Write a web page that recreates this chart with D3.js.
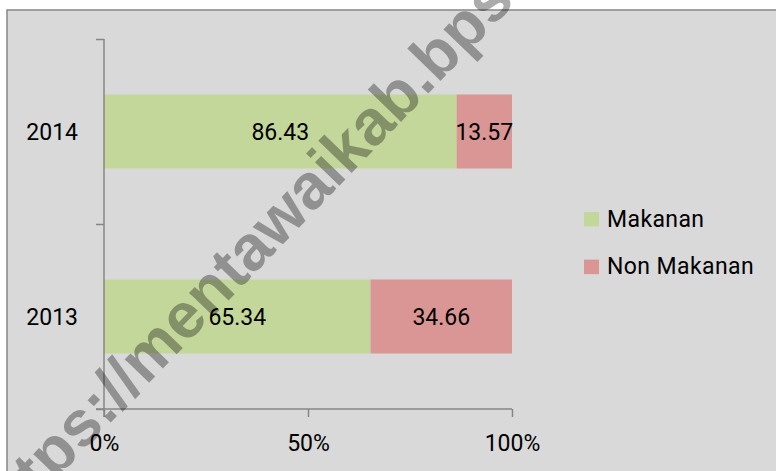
<!DOCTYPE html>
<html>
<head>
<meta charset="utf-8">
<script src="https://cdn.jsdelivr.net/npm/d3@7"></script>
<style>
  html, body { margin: 0; padding: 0; background: #ffffff; }
  svg { display: block; }
  text { font-family: Roboto, "Liberation Sans", sans-serif; fill: #000; }
</style>
</head>
<body>
<svg id="chart" width="776" height="471"></svg>
<script>
// Shares of spending (percent) per year
const years = ["2014", "2013"];
const makanan = [86.43, 65.34];
const nonMakanan = [13.57, 34.66];
const seriesNames = ["Makanan", "Non Makanan"];
const seriesColors = ["#c4d79b", "#da9694"];
const xTicks = [0, 0.5, 1];

const svg = d3.select("#chart");
const W = 776, H = 471;

// chart area panel
svg.append("rect")
  .attr("x", 7).attr("y", 10)
  .attr("width", W).attr("height", H)
  .attr("fill", "#d9d9d9")
  .attr("stroke", "#868686")
  .attr("stroke-width", 1.5);

const plot = { left: 104, right: 512, top: 39, bottom: 409 };

const x = d3.scaleLinear().domain([0, 1]).range([plot.left, plot.right]);
const y = d3.scaleBand().domain(years)
  .range([plot.top, plot.bottom])
  .paddingInner(0.6).paddingOuter(0.3);
// category boundaries for the vertical axis ticks
const yEdge = d3.scaleLinear().domain([0, years.length]).range([plot.bottom, plot.top]);

// stacked rows
const rows = years.map((yr, i) => {
  const total = makanan[i] + nonMakanan[i];
  return { year: yr, parts: [
    { name: seriesNames[0], value: makanan[i], x0: 0, x1: makanan[i] / total, color: seriesColors[0] },
    { name: seriesNames[1], value: nonMakanan[i], x0: makanan[i] / total, x1: 1, color: seriesColors[1] }
  ]};
});

const rowG = svg.append("g").selectAll("g").data(rows).join("g");
rowG.selectAll("rect").data(d => d.parts.map(p => ({ ...p, year: d.year })))
  .join("rect")
  .attr("x", d => x(d.x0))
  .attr("y", d => y(d.year))
  .attr("width", d => x(d.x1) - x(d.x0))
  .attr("height", y.bandwidth())
  .attr("fill", d => d.color);

rowG.selectAll("text.val").data(d => d.parts.map(p => ({ ...p, year: d.year })))
  .join("text")
  .attr("class", "val")
  .attr("x", d => (x(d.x0) + x(d.x1)) / 2)
  .attr("y", d => y(d.year) + y.bandwidth() / 2)
  .attr("dy", "0.35em")
  .attr("text-anchor", "middle")
  .style("font-size", "23px")
  .text(d => d.value.toFixed(2));

// vertical axis
const yAxis = svg.append("g")
  .attr("transform", `translate(${plot.left},0)`)
  .call(d3.axisLeft(yEdge).tickValues(d3.range(years.length + 1)).tickSize(8).tickFormat(""));
yAxis.select(".domain").attr("stroke", "#868686").attr("stroke-width", 1.5)
  .attr("d", `M0,${plot.top}V${plot.bottom + 8}`);
yAxis.selectAll(".tick line").attr("stroke", "#868686").attr("stroke-width", 1.5);

// category labels
svg.append("g").selectAll("text").data(years).join("text")
  .attr("x", 78)
  .attr("y", d => y(d) + y.bandwidth() / 2)
  .attr("dy", "0.35em")
  .attr("text-anchor", "end")
  .style("font-size", "23px")
  .text(d => d);

// horizontal axis
const xAxis = svg.append("g")
  .attr("transform", `translate(0,${plot.bottom})`)
  .call(d3.axisBottom(x).tickValues(xTicks).tickSize(8).tickPadding(18).tickFormat(d3.format(".0%")));
xAxis.select(".domain").attr("stroke", "#868686").attr("stroke-width", 1.5)
  .attr("d", `M${plot.left - 8},0H${plot.right}`);
xAxis.selectAll(".tick line").attr("stroke", "#868686").attr("stroke-width", 1.5);
xAxis.selectAll(".tick text").style("font-size", "23px")
  .style("font-family", "Roboto, 'Liberation Sans', sans-serif").attr("fill", "#000");

// legend
const legend = svg.append("g").attr("transform", "translate(584,212)");
const li = legend.selectAll("g").data(seriesNames).join("g")
  .attr("transform", (d, i) => `translate(0,${i * 47.6})`);
li.append("rect").attr("width", 15).attr("height", 14.5)
  .attr("fill", (d, i) => seriesColors[i]);
li.append("text").attr("x", 23).attr("y", 14.5)
  .style("font-size", "23px")
  .style("letter-spacing", "0.4px")
  .text(d => d);

// source watermark, laid diagonally across the chart
const angle = -46;
const rad = angle * Math.PI / 180;
const dir = [Math.cos(rad), Math.sin(rad)];
const wm = svg.append("text")
  .style("font-size", "64px")
  .style("font-weight", "bold")
  .style("font-family", "'Liberation Sans', sans-serif")
  .attr("fill", "#8c8c8c")
  .attr("fill-opacity", 0.33)
  .text("https://mentawaikab.bps.go.id");
// anchor the "m" of the host name at its spot
const mOffset = wm.node().getSubStringLength(0, 8);
const anchor = [146, 386];
wm.attr("transform",
  `translate(${anchor[0] - mOffset * dir[0]},${anchor[1] - mOffset * dir[1]}) rotate(${angle})`);
</script>
</body>
</html>
